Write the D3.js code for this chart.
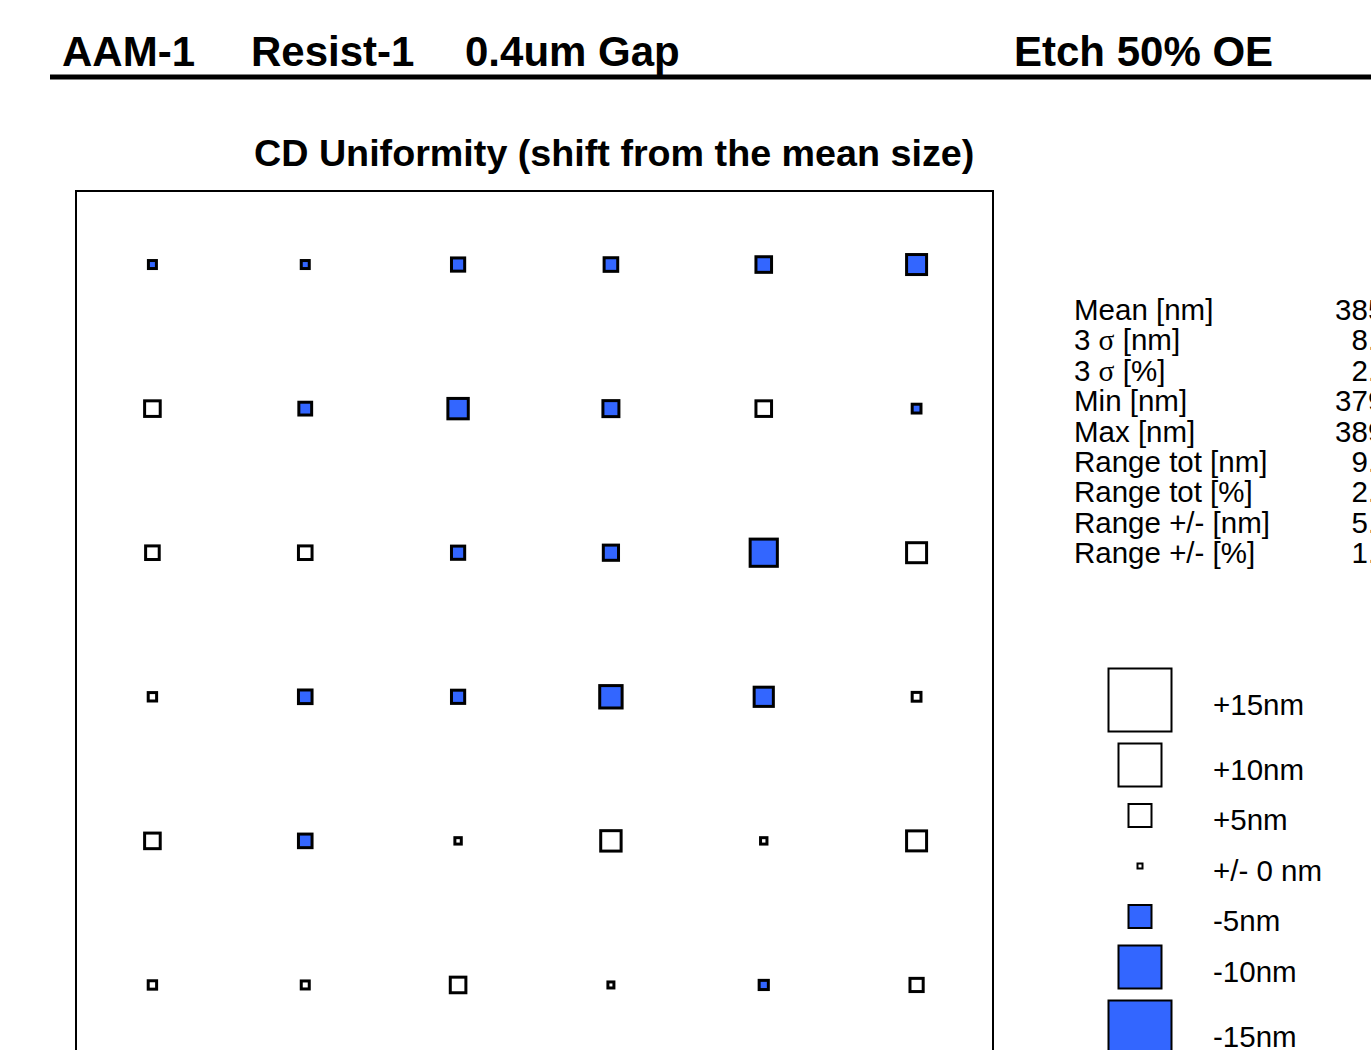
<!DOCTYPE html>
<meta charset="utf-8">
<style>
    body { margin: 0; background: #fff; }
    svg { display: block; }
    text { font-family: "Liberation Sans", Arial, sans-serif; fill: #000; }
    .head { font-size: 42px; font-weight: bold; }
    .title { font-size: 37.7px; font-weight: bold; }
    .stat, .legend text { font-size: 29.5px; }
    .sig { font-family: "Liberation Serif", "DejaVu Serif", serif; }
</style>
<svg width="1371" height="1050"></svg>
<script src="https://d3js.org/d3.v7.min.js"></script>
<script>

    // CD shift from the mean, nm (rows top to bottom, columns left to right)
    var columns = [1, 2, 3, 4, 5, 6];
    var rows = [1, 2, 3, 4, 5, 6];
    var shiftRows = [
        [-1.5, -1.5, -2.8, -2.9, -3.4, -4.5],
        [ 3.4, -2.7, -4.6, -3.5,  3.4, -1.7],
        [ 2.9,  2.9, -2.8, -3.3, -6.3,  4.5],
        [ 1.6, -2.9, -2.8, -5.1, -4.3,  1.7],
        [ 3.4, -2.9,  1.1,  4.6,  1.1,  4.5],
        [ 1.6,  1.5,  3.4,  1.0, -1.8,  2.8]
    ];

    var statLabels = ["Mean [nm]", "3 σ [nm]", "3 σ [%]", "Min [nm]", "Max [nm]",
        "Range tot [nm]", "Range tot [%]", "Range +/- [nm]", "Range +/- [%]"];
    var statValues = ["385.3", "8.4", "2.2", "379.0", "389.6", "9.9", "2.6", "5.0", "1.3"];

    var legendSteps = [15, 10, 5, 0, -5, -10, -15];
    var legendLabels = ["+15nm", "+10nm", "+5nm", "+/- 0 nm", "-5nm", "-10nm", "-15nm"];

    var headLeft = ["AAM-1", "Resist-1", "0.4um Gap"];
    var headRight = "Etch 50% OE";

    var blue = "#3366ff";

    var svg = d3.select("svg");

    // header
    var headX = [62, 251, 465];
    svg.selectAll(".head-left").data(headLeft).enter().append("text")
        .attr("class", "head")
        .attr("x", function(d, i) { return headX[i]; })
        .attr("y", 66)
        .text(function(d) { return d; });
    svg.append("text").attr("class", "head").attr("x", 1014).attr("y", 66).text(headRight);
    svg.append("rect").attr("x", 50).attr("y", 74.5).attr("width", 1330).attr("height", 5).attr("fill", "#000");

    svg.append("text").attr("class", "title").attr("x", 254).attr("y", 166)
        .text("CD Uniformity (shift from the mean size)");

    // wafer map frame
    var box = {x0: 76, x1: 993, y0: 191, y1: 1057};
    svg.append("rect")
        .attr("x", box.x0).attr("y", box.y0)
        .attr("width", box.x1 - box.x0).attr("height", box.y1 - box.y0)
        .attr("fill", "none").attr("stroke", "#000").attr("stroke-width", 2);

    var x = d3.scalePoint().domain(columns).range([box.x0, box.x1]).padding(0.5);
    var y = d3.scalePoint().domain(rows).range([box.y0 + 1.5, box.y1]).padding(0.5);

    // outer square side vs |shift|
    var side = d3.scaleLinear().domain([0, 15]).range([5, 65]);
    function outer(v) { return Math.max(7, side(Math.abs(v))); }

    var cells = [];
    shiftRows.forEach(function(r, ri) {
        r.forEach(function(v, ci) { cells.push({row: rows[ri], col: columns[ci], v: v}); });
    });

    var gridStroke = 3;
    svg.append("g").selectAll("rect").data(cells).enter().append("rect")
        .attr("x", function(d) { return x(d.col) - (outer(d.v) - gridStroke) / 2; })
        .attr("y", function(d) { return y(d.row) - (outer(d.v) - gridStroke) / 2; })
        .attr("width", function(d) { return outer(d.v) - gridStroke; })
        .attr("height", function(d) { return outer(d.v) - gridStroke; })
        .attr("fill", function(d) { return d.v < 0 ? blue : "#fff"; })
        .attr("stroke", "#000")
        .attr("stroke-width", gridStroke);

    // statistics (value column is centred and runs off the page edge)
    var stat = svg.append("g");
    statLabels.forEach(function(lbl, i) {
        var yy = 320 + i * 30.4;
        var t = stat.append("text").attr("class", "stat").attr("x", 1074).attr("y", yy);
        if (lbl.indexOf("σ") >= 0) {
            var parts = lbl.split("σ");
            t.append("tspan").text(parts[0]);
            t.append("tspan").attr("class", "sig").text("σ");
            t.append("tspan").text(parts[1]);
        } else {
            t.text(lbl);
        }
        stat.append("text").attr("class", "stat")
            .attr("x", 1372).attr("y", yy)
            .attr("text-anchor", "middle")
            .text(statValues[i]);
    });

    // legend
    var legendStroke = 2;
    var ly = [];
    legendSteps.forEach(function(v, i) {
        if (i === 0) { ly.push(700); return; }
        var gap = Math.max(50.5, (outer(legendSteps[i - 1]) + outer(v)) / 2 + 10);
        ly.push(ly[i - 1] + gap);
    });

    var leg = svg.append("g").attr("class", "legend")
        .selectAll("g").data(legendSteps).enter().append("g")
        .attr("transform", function(d, i) { return "translate(1140," + ly[i] + ")"; });

    leg.append("rect")
        .attr("x", function(d) { return -(outer(d) - legendStroke) / 2; })
        .attr("y", function(d) { return -(outer(d) - legendStroke) / 2; })
        .attr("width", function(d) { return outer(d) - legendStroke; })
        .attr("height", function(d) { return outer(d) - legendStroke; })
        .attr("fill", function(d) { return d < 0 ? blue : "#fff"; })
        .attr("stroke", "#000")
        .attr("stroke-width", legendStroke);

    leg.append("text")
        .attr("x", 73)
        .attr("y", 14.5)
        .text(function(d, i) { return legendLabels[i]; });

</script>
